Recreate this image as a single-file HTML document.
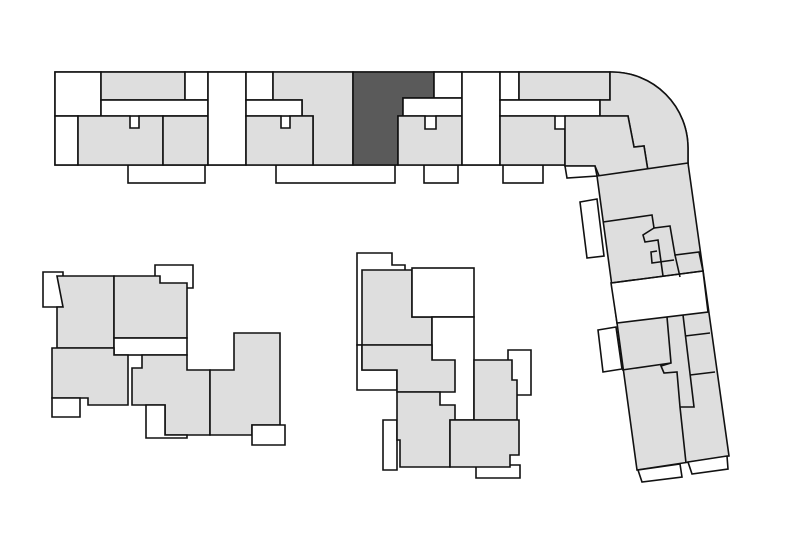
<!DOCTYPE html>
<html><head><style>html,body{margin:0;padding:0;background:#fff}svg{display:block}</style></head><body>
<svg width="800" height="547" viewBox="0 0 800 547" xmlns="http://www.w3.org/2000/svg">
<g stroke="#111" stroke-width="1.6" stroke-linejoin="miter">
<path d="M55,72 H612 A76,76 0 0 1 688,148 L688,165 L600,178 L597,176 L565,165 H55 Z" fill="#fff"/>
<rect x="128" y="165" width="77" height="18" fill="#fff"/>
<rect x="276" y="165" width="119" height="18" fill="#fff"/>
<rect x="424" y="165" width="34" height="18" fill="#fff"/>
<rect x="503" y="165" width="40" height="18" fill="#fff"/>
<rect x="55" y="72" width="46" height="44" fill="#fff"/>
<rect x="55" y="116" width="23" height="49" fill="#fff"/>
<rect x="101" y="72" width="84" height="28" fill="#dedede"/>
<rect x="185" y="72" width="23" height="28" fill="#fff"/>
<rect x="101" y="100" width="107" height="16" fill="#fff"/>
<path d="M78,116 H130 V128 H139 V116 H163 V165 H78 Z" fill="#dedede"/>
<rect x="163" y="116" width="45" height="49" fill="#dedede"/>
<rect x="208" y="72" width="38" height="93" fill="#fff"/>
<rect x="246" y="72" width="27" height="28" fill="#fff"/>
<path d="M273,72 H353 V165 H313 V116 H302 V100 H273 Z" fill="#dedede"/>
<rect x="246" y="100" width="56" height="16" fill="#fff"/>
<path d="M246,116 H281 V128 H290 V116 H313 V165 H246 Z" fill="#dedede"/>
<path d="M353,72 H434 V98 H403 V116 H398 V165 H353 Z" fill="#5a5a5a"/>
<rect x="434" y="72" width="28" height="26" fill="#fff"/>
<rect x="403" y="98" width="59" height="18" fill="#fff"/>
<path d="M398,116 H425 V129 H436 V116 H462 V165 H398 Z" fill="#dedede"/>
<rect x="462" y="72" width="38" height="93" fill="#fff"/>
<rect x="500" y="72" width="19" height="28" fill="#fff"/>
<rect x="519" y="72" width="91" height="28" fill="#dedede"/>
<rect x="500" y="100" width="100" height="16" fill="#fff"/>
<path d="M500,116 H555 V129 H565 V165 H500 Z" fill="#dedede"/>
<path d="M612,72 A76,76 0 0 1 688,148 L688,165 L648,171 L644,146 L634,147 L628,116 H600 V100 H610 V72 Z" fill="#dedede"/>
<path d="M565,129 V116 H628 L634,147 L644,146 L648,171 L600,178 L595,166 H565 Z" fill="#dedede"/>
<path d="M565,166 H595 L597,176 L567,178 Z" fill="#fff"/>
<path d="M597,176 L688,163 L729,456 L637,470 Z" fill="#dedede"/>
<path d="M611,283 L703,271 L708,312 L617,323 Z" fill="#fff"/>
<path d="M603,222 L652,215 L654,228 L670,226 L675,255 L699,252 L703,271 L611,283" fill="none"/>
<path d="M675,255 L680,277 M674,260 L652,263 L651,252 L657,251" fill="none"/>
<path d="M654,228 L643,235 L645,242 L658,240 L663,276" fill="none"/>
<path d="M580,202 L597,199 L604,256 L587,258 Z" fill="#fff"/>
<path d="M598,330 L616,327 L622,369 L603,372 Z" fill="#fff"/>
<path d="M667,317 L671,363 L622,370 M671,363 L661,366 L664,373 L677,372 L680,407 L686,463" fill="none"/>
<path d="M683,315 L694,407 L680,407" fill="none"/>
<path d="M685,336 L710,333 M690,375 L715,372" fill="none"/>
<path d="M638,470 L680,464 L682,477 L642,482 Z" fill="#fff"/>
<path d="M688,462 L727,456 L728,469 L692,474 Z" fill="#fff"/>
<path d="M43,272 H63 V307 H43 Z" fill="#fff"/>
<path d="M155,265 H193 V288 H155 Z" fill="#fff"/>
<path d="M57,276 H114 V348 H57 V307 H63 Z" fill="#dedede"/>
<path d="M114,276 H160 V283 H187 V338 H114 Z" fill="#dedede"/>
<rect x="114" y="338" width="73" height="17" fill="#fff"/>
<path d="M52,348 H114 V355 H128 V405 H88 V398 H52 Z" fill="#dedede"/>
<path d="M52,398 H80 V417 H52 Z" fill="#fff"/>
<path d="M132,368 H142 V355 H187 V370 H210 V435 H165 V405 H132 Z" fill="#dedede"/>
<path d="M146,405 H165 V435 H187 V438 H146 Z" fill="#fff"/>
<path d="M210,370 H234 V333 H280 V425 H252 V435 H210 Z" fill="#dedede"/>
<path d="M252,425 H285 V445 H252 Z" fill="#fff"/>
<path d="M357,253 H392 V265 H405 V345 H357 Z" fill="#fff"/>
<path d="M362,270 H412 V317 H432 V345 H362 Z" fill="#dedede"/>
<rect x="412" y="268" width="62" height="49" fill="#fff"/>
<rect x="432" y="317" width="42" height="103" fill="#fff"/>
<path d="M357,345 H362 V370 H397 V390 H357 Z" fill="#fff"/>
<path d="M362,345 H432 V360 H455 V392 H397 V370 H362 Z" fill="#dedede"/>
<path d="M383,420 H397 V470 H383 Z" fill="#fff"/>
<path d="M397,392 H440 V405 H455 V420 H450 V467 H400 V440 H397 Z" fill="#dedede"/>
<path d="M508,350 H531 V395 H508 Z" fill="#fff"/>
<path d="M474,360 H512 V380 H517 V420 H474 Z" fill="#dedede"/>
<path d="M476,465 H520 V478 H476 Z" fill="#fff"/>
<path d="M450,420 H519 V455 H510 V467 H450 Z" fill="#dedede"/>
</g>
</svg>
</body></html>
